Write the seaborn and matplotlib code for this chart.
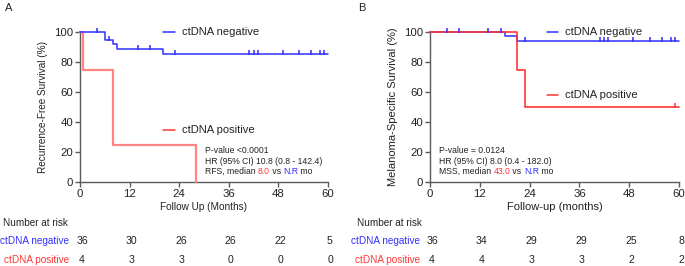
import matplotlib
matplotlib.use("Agg")
import matplotlib.pyplot as plt
import matplotlib.transforms as mtransforms
import numpy as np
import pandas as pd
import seaborn as sns

BLUE = "#3030ff"
RED = "#ff3535"
RED_LIGHT = "#ff8585"
AXIS_GREY = "#5a5a5a"

RISK_TIMES = [0, 12, 24, 36, 48, 60]

# Panel A: recurrence-free survival
A_NEG_TIMES = [0, 6, 8, 9, 20]
A_NEG_SURV = [100, 94.4, 91.7, 88.6, 85.3]
A_NEG_END = 60
A_NEG_CENSOR = [4, 7, 14, 17, 23, 41, 42, 43, 49, 53, 56, 58, 59]
A_POS_TIMES = [0, 0.8, 8, 28]
A_POS_SURV = [100, 75, 25, 0]
A_POS_END = 28
A_POS_CENSOR = []
A_RISK_NEG = [36, 30, 26, 26, 22, 5]
A_RISK_POS = [4, 3, 3, 0, 0, 0]

# Panel B: melanoma-specific survival
B_NEG_TIMES = [0, 18, 21]
B_NEG_SURV = [100, 97.2, 94.0]
B_NEG_END = 60
B_NEG_CENSOR = [4, 7, 14, 17, 23, 41, 42, 43, 49, 53, 56, 58, 59]
B_POS_TIMES = [0, 21, 23]
B_POS_SURV = [100, 75, 50]
B_POS_END = 60
B_POS_CENSOR = [59]
B_RISK_NEG = [36, 34, 29, 29, 25, 8]
B_RISK_POS = [4, 4, 3, 3, 2, 2]

sns.set_theme(style="ticks")
plt.rcParams["font.family"] = ["Liberation Sans", "DejaVu Sans"]
plt.rcParams["axes.edgecolor"] = AXIS_GREY
plt.rcParams["xtick.color"] = AXIS_GREY
plt.rcParams["ytick.color"] = AXIS_GREY
plt.rcParams["xtick.labelcolor"] = "#222222"
plt.rcParams["ytick.labelcolor"] = "#222222"

# censor tick: short vertical stroke sitting mostly above the curve
CENSOR_MARK = [(0, -0.35), (0, 1)]


def step_frame(times, surv, end):
    x = list(times)
    y = list(surv)
    if end > x[-1]:
        x.append(end)
        y.append(y[-1])
    return pd.DataFrame({"t": x, "s": y})


def censor_frame(times, surv, censor):
    times = np.asarray(times)
    surv = np.asarray(surv)
    idx = np.searchsorted(times, censor, side="right") - 1
    return pd.DataFrame({"t": censor, "s": surv[idx] if len(censor) else []})


def draw_curve(ax, times, surv, end, censor, color, lw):
    df = step_frame(times, surv, end)
    sns.lineplot(data=df, x="t", y="s", drawstyle="steps-post", estimator=None,
                 sort=False, color=color, lw=lw, ax=ax, clip_on=False, zorder=3)
    if len(censor):
        cdf = censor_frame(times, surv, censor)
        sns.scatterplot(data=cdf, x="t", y="s", marker=CENSOR_MARK, s=30,
                        color=color, edgecolor=color, linewidth=1.1, ax=ax,
                        clip_on=False, zorder=4)


def legend_entry(ax, x0, y, label, color):
    ax.plot([x0, x0 + 0.047], [y, y], transform=ax.transAxes, color=color,
            lw=1.1, clip_on=False)
    ax.text(x0 + 0.075, y, label, transform=ax.transAxes, fontsize=8,
            va="center", ha="left", color="#222222")


def stats_text(ax, x, y0, lines, last_prefix, red_val, blue_val):
    for i, line in enumerate(lines):
        ax.text(x, y0 - i * 0.07, line, transform=ax.transAxes, fontsize=6.2,
                va="center", ha="left", color="#222222")
    y = y0 - len(lines) * 0.07
    t = ax.text(x, y, last_prefix, transform=ax.transAxes, fontsize=6.2,
                va="center", ha="left", color="#222222")
    for piece, col in [(red_val, RED), (" vs ", "#222222"), (blue_val, BLUE),
                       (" mo", "#222222")]:
        t = ax.annotate(piece, xy=(1, 0), xycoords=t, va="bottom", ha="left",
                        fontsize=6.2, color=col)


def risk_table(fig, ax, label_right, title_left, neg, pos, fs):
    blend = mtransforms.blended_transform_factory(ax.transData, fig.transFigure)
    shift = mtransforms.ScaledTranslation(2 / 100, 0, fig.dpi_scale_trans)
    fig.text(title_left, 1 - 223 / 266, "Number at risk", fontsize=7.2,
             va="center", ha="left", color="#222222")
    fig.text(label_right, 1 - 241 / 266, "ctDNA negative", fontsize=7.2,
             va="center", ha="right", color=BLUE)
    fig.text(label_right, 1 - 260 / 266, "ctDNA positive", fontsize=7.2,
             va="center", ha="right", color=RED)
    for t, n in zip(RISK_TIMES, neg):
        ax.text(t, 1 - 241 / 266, str(n), transform=blend + shift, fontsize=fs,
                va="center", ha="center", color="#222222", clip_on=False)
    for t, n in zip(RISK_TIMES, pos):
        ax.text(t, 1 - 260 / 266, str(n), transform=blend + shift, fontsize=fs,
                va="center", ha="center", color="#222222", clip_on=False)


def style_axes(ax, xlabel, ylabel, fs_label):
    ax.set_xlim(0, 60)
    ax.set_ylim(0, 100)
    ax.set_xticks(RISK_TIMES)
    ax.set_yticks([0, 20, 40, 60, 80, 100])
    sns.despine(ax=ax)
    for sp in ("left", "bottom"):
        ax.spines[sp].set_linewidth(1.0)
    ax.tick_params(axis="both", length=3.5, width=1.0, labelsize=8.2, pad=1.5)
    ax.set_xlabel(xlabel, fontsize=fs_label, color="#222222", labelpad=2)
    ax.set_ylabel(ylabel, fontsize=fs_label, color="#222222", labelpad=4)


fig = plt.figure(figsize=(6.85, 2.66), dpi=100)
axA = fig.add_axes([80 / 685, 1 - 182 / 266, 248 / 685, 150 / 266])
axB = fig.add_axes([430 / 685, 1 - 182 / 266, 249 / 685, 150 / 266])

# Panel A
draw_curve(axA, A_POS_TIMES, A_POS_SURV, A_POS_END, A_POS_CENSOR, RED_LIGHT, 1.6)
draw_curve(axA, A_NEG_TIMES, A_NEG_SURV, A_NEG_END, A_NEG_CENSOR, BLUE, 1.1)
style_axes(axA, "Follow Up (Months)", "Recurrence-Free Survival (%)", 7.2)
legend_entry(axA, 0.335, 1.0, "ctDNA negative", BLUE)
legend_entry(axA, 0.335, 0.347, "ctDNA positive", RED)
stats_text(axA, 0.504, 0.209, ["P-value <0.0001", "HR (95% CI) 10.8 (0.8 - 142.4)"],
           "RFS, median ", "8.0", "N.R")
risk_table(fig, axA, 69 / 685, 3 / 685, A_RISK_NEG, A_RISK_POS, 7.6)
fig.text(5 / 685, 1 - 8 / 266, "A", fontsize=8, va="center", ha="left",
         color="#222222")

# Panel B
draw_curve(axB, B_NEG_TIMES, B_NEG_SURV, B_NEG_END, B_NEG_CENSOR, BLUE, 1.1)
draw_curve(axB, B_POS_TIMES, B_POS_SURV, B_POS_END, B_POS_CENSOR, RED, 1.2)
style_axes(axB, "Follow-up (months)", "Melanoma-Specific Survival (%)", 8)
legend_entry(axB, 0.469, 1.0, "ctDNA negative", BLUE)
legend_entry(axB, 0.469, 0.58, "ctDNA positive", RED)
stats_text(axB, 0.036, 0.209, ["P-value = 0.0124", "HR (95% CI) 8.0 (0.4 - 182.0)"],
           "MSS, median ", "43.0", "N.R")
risk_table(fig, axB, 420 / 685, 357 / 685, B_RISK_NEG, B_RISK_POS, 7.6)
fig.text(358 / 685, 1 - 8 / 266, "B", fontsize=8, va="center", ha="left",
         color="#222222")

fig.savefig("out.png", dpi=100)
